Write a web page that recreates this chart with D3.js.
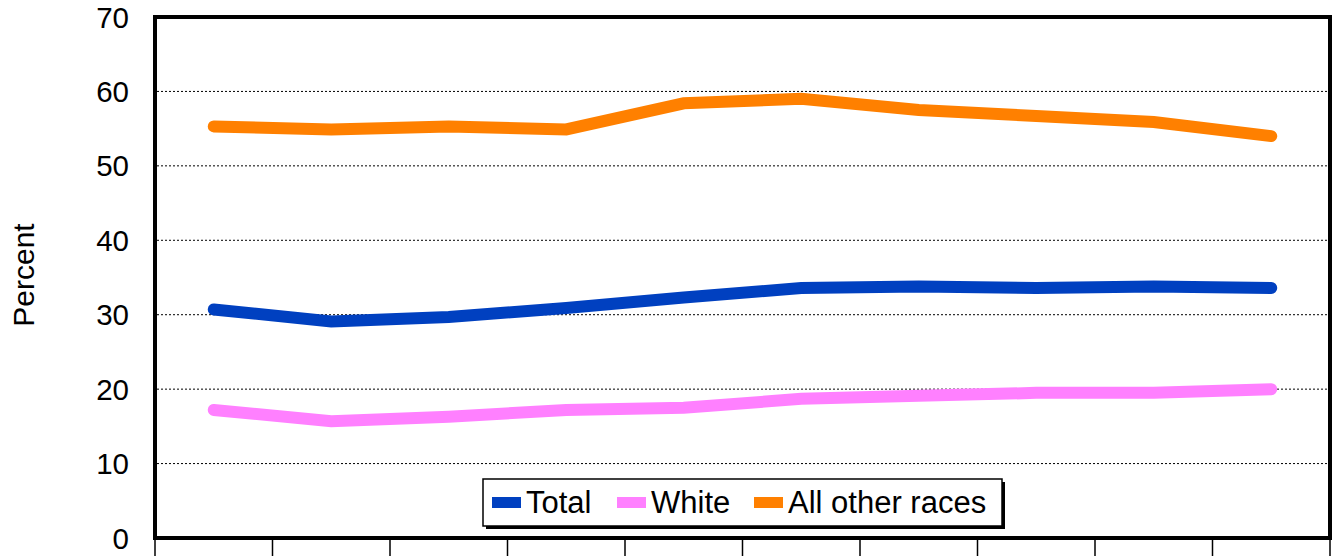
<!DOCTYPE html>
<html>
<head>
<meta charset="utf-8">
<script src="https://cdn.jsdelivr.net/npm/d3@7"></script>
<style>
  html, body { margin: 0; padding: 0; background: #fff; }
  svg { display: block; }
  text { font-family: "Liberation Sans", Arial, sans-serif; }
</style>
</head>
<body>
<svg id="chart" width="1335" height="556"></svg>
<script>
// Data
const categories = ["1", "2", "3", "4", "5", "6", "7", "8", "9", "10"];
const seriesNames = ["Total", "White", "All other races"];
const totalValues = [30.7, 29.1, 29.7, 30.9, 32.3, 33.6, 33.8, 33.6, 33.8, 33.6];
const whiteValues = [17.2, 15.7, 16.3, 17.2, 17.5, 18.7, 19.1, 19.5, 19.5, 20.0];
const otherValues = [55.3, 54.9, 55.3, 54.9, 58.4, 59.0, 57.5, 56.7, 55.9, 54.0];
const seriesColors = ["#0040C0", "#FF80FF", "#FF8000"];
const yTicks = [0, 10, 20, 30, 40, 50, 60, 70];
const yLabel = "Percent";

const series = [
  { name: seriesNames[0], values: totalValues, color: seriesColors[0] },
  { name: seriesNames[1], values: whiteValues, color: seriesColors[1] },
  { name: seriesNames[2], values: otherValues, color: seriesColors[2] }
];

const svg = d3.select("#chart");
const pLeft = 155, pRight = 1330, pTop = 17, pBottom = 538;

const x = d3.scalePoint().domain(categories).range([pLeft, pRight]).padding(0.5);
const xb = d3.scaleBand().domain(categories).range([pLeft, pRight]).padding(0);
const y = d3.scaleLinear().domain([0, 70]).range([pBottom, pTop]);

// gridlines
svg.append("g").selectAll("line")
  .data(yTicks.filter(t => t > 0 && t < 70))
  .join("line")
  .attr("x1", pLeft + 2).attr("x2", pRight - 2)
  .attr("y1", d => y(d)).attr("y2", d => y(d))
  .attr("stroke", "#000").attr("stroke-width", 1)
  .attr("stroke-dasharray", "2,2");

// y tick labels
svg.append("g").selectAll("text")
  .data(yTicks)
  .join("text")
  .attr("x", 129).attr("y", d => y(d))
  .attr("dy", "0.36em")
  .attr("text-anchor", "end")
  .attr("font-size", 29.5)
  .attr("fill", "#000")
  .text(d => d);

// y label
svg.append("text")
  .attr("transform", `translate(34,275) rotate(-90)`)
  .attr("text-anchor", "middle")
  .attr("font-size", 30)
  .attr("fill", "#000")
  .text(yLabel);

// x ticks below the frame (category boundaries)
const boundaries = categories.map(c => xb(c)).concat([pRight]);
svg.append("g").selectAll("line")
  .data(boundaries)
  .join("line")
  .attr("x1", d => d).attr("x2", d => d)
  .attr("y1", pBottom).attr("y2", 560)
  .attr("stroke", "#000").attr("stroke-width", 1.5);

// lines
const line = d3.line().x((d, i) => x(categories[i])).y(d => y(d));
svg.append("g").selectAll("path")
  .data(series)
  .join("path")
  .attr("d", d => line(d.values))
  .attr("fill", "none")
  .attr("stroke", d => d.color)
  .attr("stroke-width", 12)
  .attr("stroke-linecap", "round")
  .attr("stroke-linejoin", "miter");

// frame
svg.append("rect")
  .attr("x", pLeft).attr("y", pTop)
  .attr("width", pRight - pLeft).attr("height", pBottom - pTop)
  .attr("fill", "none").attr("stroke", "#000").attr("stroke-width", 4);

// legend
const lg = svg.append("g");
const lx = 483, ly = 479, lw = 519, lh = 47;
lg.append("rect").attr("x", lx + 3).attr("y", ly + 3).attr("width", lw).attr("height", lh).attr("fill", "#000");
lg.append("rect").attr("x", lx).attr("y", ly).attr("width", lw).attr("height", lh)
  .attr("fill", "#fff").attr("stroke", "#000").attr("stroke-width", 1.5);
const legendX = [492, 617, 754];
series.forEach((s, i) => {
  lg.append("rect").attr("x", legendX[i]).attr("y", 497).attr("width", 29).attr("height", 11).attr("fill", s.color);
  lg.append("text").attr("x", legendX[i] + 34).attr("y", 502).attr("dy", "0.36em")
    .attr("font-size", 31).attr("fill", "#000").text(s.name);
});
</script>
</body>
</html>
